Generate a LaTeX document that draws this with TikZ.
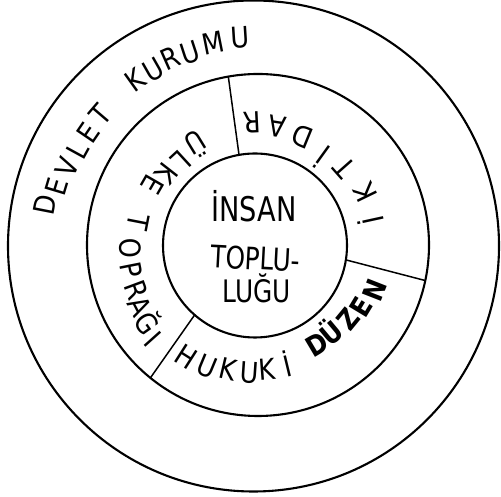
\documentclass[tikz,border=0pt]{standalone}
\usepackage{fontspec}
\setmainfont[FakeStretch=0.8]{DejaVu Sans}
\newfontfamily\ringfont[FakeStretch=0.88]{DejaVu Sans}
\begin{document}
\begin{tikzpicture}[x=1pt,y=1pt,
  circ/.style={circle, draw, line width=2.1pt, inner sep=0pt, outer sep=0pt},
  divider/.style={line width=1.5pt},
  outerletter/.style={font=\ringfont\fontsize{29}{29}\selectfont, inner sep=0pt, text height=21.1pt, text depth=0pt, anchor=center},
  ringletter/.style={font=\ringfont\fontsize{29}{29}\selectfont, inner sep=0pt, text height=21.1pt, text depth=0pt, anchor=center},
  boldletter/.style={font=\ringfont\fontsize{28}{28}\selectfont\bfseries, inner sep=0pt, text height=20.4pt, text depth=0pt, anchor=center},
  centertext/.style={font=\fontsize{31}{31}\selectfont, inner sep=0pt, text height=22.6pt, text depth=0pt, anchor=center}
]
\useasboundingbox (0,0) rectangle (501,497);
\coordinate (oc) at (253.5,251);
\coordinate (mc) at (258,252);
\node[circ, minimum size=491pt] (outer) at (oc) {};
\node[circ, minimum size=342pt] (middle) at (mc) {};
\node[circ, minimum size=184pt] (inner) at (255,251.5) {};
\draw[divider] (inner.100) -- (middle.100.3);
\draw[divider] (inner.-9) -- (middle.-12.6);
\draw[divider] (inner.229.5) -- (middle.231.8);
% DEVLET KURUMU
\foreach \ang/\rad/\ch [count=\i] in {168.9/212.5/D, 163.3/205/E, 157.0/202.5/V, 151.3/200/L, 145.7/200.4/E, 139.5/201.8/T, 125.5/204/K, 119.7/202.7/U, 113.9/205.7/R, 108.1/204/U, 101.3/207/M, 93.7/209.4/U}
  \node[outerletter, rotate=\ang-90] (dk\i) at ([shift={(\ang:\rad pt)}]oc) {\ch};
% IKTIDAR
\foreach \ang/\rad/\ch [count=\i] in {12.3/118/İ, 25.9/119/K, 41.5/116/T, 54.2/111/İ, 67.8/117/D, 80.9/120/A, 92.8/123/R}
  \node[ringletter, rotate=\ang+90] (ik\i) at ([shift={(\ang:\rad pt)}]mc) {\ch};
% ULKE
\foreach \ang/\rad/\ch [count=\i] in {121.5/120.5/Ü, 132.5/114/L, 142.0/116/K, 150.1/121/E}
  \node[ringletter, rotate=\ang+90] (ul\i) at ([shift={(\ang:\rad pt)}]mc) {\ch};
% TOPRAGI
\foreach \ang/\rad/\ch [count=\i] in {169.0/122/T, 181.5/128/O, 191.2/128.8/P, 200.4/129.4/R, 207.6/133.2/A, 215.1/136/Ğ, 221.8/141.4/I}
  \node[ringletter, rotate=\ang+90] (tp\i) at ([shift={(\ang:\rad pt)}]mc) {\ch};
% HUKUKI
\foreach \ang/\rad/\ch [count=\i] in {237.45/132.5/H, 247.4/131.8/U, 256.6/127.8/K, 266.1/128/U, 274.3/124.6/K, 283.6/124.5/İ}
  \node[ringletter, rotate=\ang+90] (hk\i) at ([shift={(\ang:\rad pt)}]mc) {\ch};
% DUZEN
\foreach \ang/\rad/\ch [count=\i] in {300.7/116.3/D, 309.9/115/Ü, 320.6/117/Z, 328.9/120/E, 338.6/125/N}
  \node[boldletter, rotate=\ang+90] (dz\i) at ([shift={(\ang:\rad pt)}]mc) {\ch};
% centre
\node[centertext, font=\fontsize{34}{34}\selectfont, text height=24.8pt] (insan) at (254,288) {İNSAN};
\node[centertext, rotate=-3] (toplu) at (255.5,238.7) {TOPLU-};
\node[centertext] (lugu) at (257,205.7) {LUĞU};
\end{tikzpicture}
\end{document}
